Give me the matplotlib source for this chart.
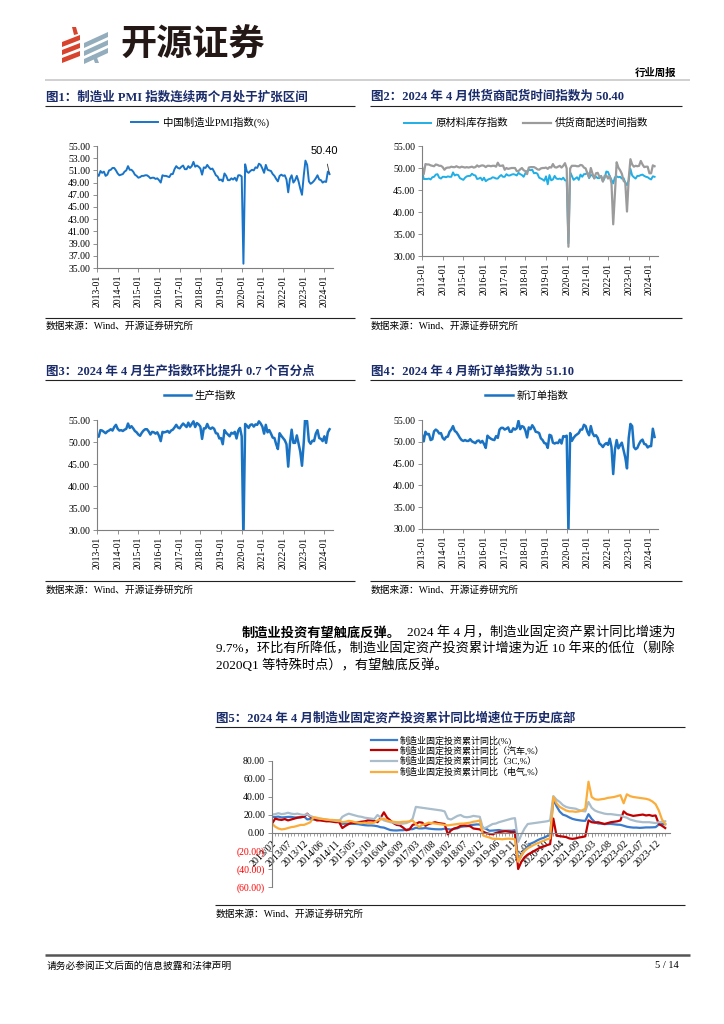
import matplotlib.pyplot as plt
import numpy as np
from matplotlib.patches import Polygon

plt.rcParams['font.family'] = ['Liberation Serif', 'Noto Sans CJK SC']
plt.rcParams['axes.unicode_minus'] = False

# ---------------- data ----------------
year_ticks = [f'{y}-01' for y in range(2013, 2025)]

# 制造业PMI, 2013-01 .. 2024-04
pmi = [50.4, 50.1, 50.9, 50.6, 50.8, 50.1, 50.3, 51.0, 51.1, 51.4, 51.4, 51.0,
       50.5, 50.2, 50.3, 50.4, 50.8, 51.0, 51.7, 51.1, 51.1, 50.8, 50.3, 50.1,
       49.8, 49.9, 50.1, 50.1, 50.2, 50.2, 50.0, 49.7, 49.8, 49.8, 49.6, 49.7,
       49.4, 49.0, 50.2, 50.1, 50.1, 50.0, 49.9, 50.4, 50.4, 51.2, 51.7, 51.4,
       51.3, 51.6, 51.8, 51.2, 51.2, 51.7, 51.4, 51.7, 52.4, 51.6, 51.8, 51.6,
       51.3, 50.3, 51.5, 51.4, 51.9, 51.5, 51.2, 51.3, 50.8, 50.2, 50.0, 49.4,
       49.5, 49.2, 50.5, 50.1, 49.4, 49.4, 49.7, 49.5, 49.8, 49.3, 50.2, 50.2,
       50.0, 35.7, 52.0, 50.8, 50.6, 50.9, 51.1, 51.0, 51.5, 51.4, 52.1, 51.9,
       51.3, 50.6, 51.9, 51.1, 51.0, 50.9, 50.4, 50.1, 49.6, 49.2, 50.1, 50.3,
       50.1, 50.2, 49.5, 47.4, 49.6, 50.2, 49.0, 49.4, 50.1, 49.2, 48.0, 47.0,
       50.1, 52.6, 51.9, 49.2, 48.8, 49.0, 49.3, 49.7, 50.2, 49.5, 49.4, 49.0,
       49.2, 49.1, 50.8, 50.4]

# 原材料库存指数
inventory = [49.6, 47.5, 47.5, 47.5, 47.6, 47.4, 47.9, 48.0, 48.5, 48.6, 47.8, 47.6,
             48.0, 48.0, 47.9, 48.1, 48.0, 48.0, 49.0, 48.3, 48.5, 48.4, 47.7, 47.5,
             47.3, 47.8, 48.1, 48.2, 48.2, 48.7, 48.4, 48.3, 47.5, 47.6, 47.8, 47.2,
             47.8, 47.0, 47.3, 47.5, 47.6, 47.9, 47.8, 47.6, 47.6, 48.1, 48.4, 48.0,
             48.0, 48.6, 48.3, 48.3, 48.5, 48.6, 48.5, 48.3, 48.9, 48.6, 48.4, 48.0,
             48.8, 49.3, 49.6, 49.5, 49.6, 48.8, 48.9, 48.7, 47.8, 47.6, 47.4, 47.1,
             48.1, 46.3, 48.4, 47.2, 47.4, 48.2, 47.6, 47.5, 47.6, 47.4, 47.8, 47.2,
             47.1, 32.9, 49.0, 48.2, 47.3, 47.6, 47.9, 47.3, 48.5, 48.0, 48.6, 48.6,
             49.0, 47.7, 48.4, 48.3, 47.7, 48.0, 47.7, 47.7, 48.2, 47.0, 47.7, 49.2,
             49.1, 48.1, 47.3, 46.5, 47.9, 48.1, 47.9, 48.0, 47.6, 47.7, 46.7, 46.1,
             47.2, 49.8, 48.3, 47.9, 47.6, 48.2, 48.2, 48.4, 48.5, 48.2, 48.0, 47.9,
             47.6, 47.4, 48.1, 48.0]

# 供货商配送时间指数
delivery = [50.3, 48.6, 50.9, 50.8, 50.8, 50.6, 50.5, 50.4, 50.8, 50.7, 50.5, 50.5,
            50.2, 49.6, 50.0, 50.1, 50.1, 50.3, 50.2, 50.2, 50.4, 50.2, 50.1, 50.3,
            50.2, 50.1, 50.2, 50.1, 50.2, 50.3, 50.1, 50.2, 50.6, 50.3, 50.5, 50.6,
            50.5, 50.2, 50.5, 50.5, 50.4, 50.5, 50.5, 50.3, 51.2, 50.5, 50.5, 50.6,
            49.6, 50.0, 49.8, 49.9, 50.0, 50.0, 50.0, 49.3, 49.3, 49.7, 50.0, 49.5,
            49.3, 48.6, 50.1, 50.2, 50.2, 50.2, 50.0, 49.7, 49.6, 49.9, 50.0, 50.0,
            50.1, 49.8, 50.2, 50.1, 50.9, 50.2, 50.1, 50.3, 50.5, 50.1, 50.5, 51.1,
            49.9, 32.1, 49.9, 50.5, 50.5, 50.5, 50.4, 50.4, 50.7, 50.6, 50.1, 49.9,
            48.8, 47.9, 50.0, 48.7, 47.6, 48.8, 48.9, 48.0, 48.1, 46.9, 48.2, 48.3,
            47.6, 48.2, 46.5, 37.2, 44.1, 51.3, 50.1, 49.5, 48.7, 47.1, 46.7, 40.1,
            47.6, 52.0, 50.8, 50.3, 50.5, 50.4, 50.5, 51.6, 50.8, 50.2, 50.3, 50.3,
            48.8, 48.8, 50.6, 50.4]

# 生产指数
production = [51.3, 51.2, 52.7, 52.6, 52.3, 52.0, 52.4, 52.6, 52.9, 52.6, 53.4, 53.9,
              53.0, 52.6, 52.7, 52.5, 52.8, 53.0, 54.2, 53.2, 53.6, 53.1, 52.5, 52.2,
              51.7, 51.4, 52.1, 52.6, 52.9, 52.9, 52.4, 51.7, 52.3, 52.2, 51.9, 52.2,
              51.4, 50.2, 52.3, 52.2, 52.3, 52.5, 52.1, 52.6, 52.8, 53.3, 53.9, 53.3,
              53.1, 53.7, 54.2, 53.8, 53.4, 54.4, 53.5, 54.1, 54.7, 53.4, 54.3, 54.0,
              53.5, 50.7, 53.1, 53.1, 54.1, 53.2, 53.0, 53.3, 53.0, 52.0, 51.9, 50.8,
              50.9, 49.5, 52.7, 52.1, 51.7, 51.3, 52.1, 51.9, 52.3, 50.8, 52.6, 53.2,
              51.3, 27.8, 54.1, 53.7, 53.2, 53.9, 54.0, 53.5, 54.0, 53.9, 54.7, 54.2,
              53.5, 51.9, 53.9, 52.2, 52.7, 51.9, 51.0, 50.9, 49.5, 48.4, 52.0, 51.4,
              50.9, 50.4, 49.5, 44.4, 49.7, 52.8, 49.8, 49.8, 51.5, 49.6, 47.8, 44.6,
              49.8, 56.7, 54.6, 50.2, 49.6, 50.3, 50.2, 51.9, 52.7, 50.9, 50.7, 50.2,
              51.3, 49.8, 52.2, 52.9]

# 新订单指数
new_orders = [51.6, 50.1, 52.3, 51.7, 51.8, 50.4, 50.6, 52.4, 52.8, 52.5, 51.9, 52.0,
              50.9, 50.5, 51.1, 51.2, 52.3, 52.8, 53.6, 52.5, 52.2, 51.6, 50.9, 50.4,
              50.2, 50.4, 50.2, 50.2, 50.6, 50.1, 49.9, 49.7, 50.2, 50.3, 49.8, 50.2,
              49.5, 48.6, 51.4, 51.0, 50.7, 50.5, 50.4, 51.3, 50.9, 52.8, 53.2, 53.2,
              52.8, 53.0, 53.3, 52.3, 52.3, 53.1, 52.8, 53.1, 54.8, 52.9, 53.6, 53.4,
              52.6, 51.0, 53.3, 52.9, 53.8, 53.2, 52.3, 52.2, 52.0, 50.8, 50.4, 49.7,
              49.6, 48.6, 51.6, 51.4, 49.8, 49.6, 49.8, 49.7, 50.5, 49.6, 51.3, 51.2,
              51.4, 29.3, 52.0, 50.2, 50.9, 51.4, 51.7, 52.0, 52.8, 52.8, 53.9, 53.6,
              52.3, 51.5, 53.6, 52.0, 51.3, 51.5, 50.9, 49.6, 49.3, 48.8, 49.4, 49.7,
              49.3, 50.7, 48.8, 42.6, 48.2, 50.4, 48.5, 49.2, 49.8, 48.1, 46.4, 43.9,
              50.9, 54.1, 53.6, 48.8, 48.3, 48.6, 49.5, 50.2, 50.5, 49.5, 49.4, 48.7,
              49.0, 49.0, 53.0, 51.1]

# 制造业固定资产投资累计同比, 2013/02 .. 2024/04 (no January)
fai_months = [f'{y}{"/" if y < 2019 else "-"}{m:02d}'
              for y in range(2013, 2025) for m in range(2, 13)
              if not (y == 2024 and m > 4)]
fai_total = [17.8, 17.8, 18.2, 17.3, 17.5, 17.9, 17.9, 17.3, 17.3, 17.5, 18.5,
             15.1, 15.5, 15.0, 14.8, 14.8, 14.5, 14.1, 14.0, 13.9, 13.6, 13.5,
             10.2, 10.4, 10.4, 10.1, 10.1, 9.8, 9.2, 8.7, 8.4, 8.4, 8.1,
             7.5, 6.4, 6.0, 4.6, 3.3, 2.9, 2.8, 3.1, 3.1, 3.6, 4.2,
             4.3, 5.8, 5.1, 5.1, 5.5, 4.9, 4.5, 4.2, 4.1, 4.1, 4.8,
             4.3, 3.8, 4.8, 5.2, 6.8, 7.3, 7.5, 8.7, 9.1, 9.5, 9.5,
             5.9, 4.6, 2.5, 2.7, 3.0, 3.3, 2.6, 2.5, 2.6, 2.5, 3.1,
             -31.5, -25.2, -18.8, -14.8, -11.7, -10.2, -8.1, -6.5, -5.3, -3.5, -2.2,
             37.3, 29.8, 23.8, 20.4, 19.2, 17.3, 15.7, 14.8, 14.2, 13.7, 13.5,
             20.9, 15.6, 12.2, 10.6, 10.4, 9.9, 10.0, 10.1, 9.7, 9.3, 9.1,
             8.1, 7.0, 6.4, 6.0, 6.0, 5.7, 5.9, 6.2, 6.2, 6.3, 6.5,
             9.4, 9.9, 9.7]
fai_auto = [10.4, 16.0, 15.0, 14.5, 15.5, 14.0, 15.0, 16.0, 17.0, 17.5, 18.0,
            21.5, 18.0, 16.0, 14.0, 14.0, 13.5, 13.0, 13.0, 12.5, 12.0, 12.0,
            5.5, 8.0, 10.0, 11.5, 11.0, 12.0, 12.5, 13.0, 14.0, 14.0, 13.5,
            12.0, 17.0, 23.0, 17.0, 14.0, 11.0, 9.0, 8.5, 6.0, 3.0, 4.0,
            9.0, 10.0, 12.0, 11.5, 8.0, 10.0, 11.0, 12.0, 11.0, 10.5, 10.0,
            -1.5, 3.0, 5.0, 6.0, 8.0, 8.5, 8.0, 7.5, 5.0, 4.5, 4.0,
            1.5, 0.0, -1.0, -1.5, 0.0, 1.0, 1.5, 2.0, 1.5, 1.0, 1.0,
            -40.0, -32.0, -27.0, -24.0, -22.0, -20.0, -18.0, -16.0, -15.0, -13.5, -12.4,
            16.0, -3.0, -3.5, -4.0, -4.5, -6.0, -6.5, -6.0, -5.0, -4.5, -3.7,
            14.0, 12.0, 11.5, 12.0, 11.0, 10.0, 11.0, 12.0, 12.5, 13.0, 14.0,
            24.0, 21.0, 20.0, 19.0, 19.5, 20.0, 20.5, 19.5, 20.0, 19.0, 19.5,
            10.0, 8.0, 5.5]
fai_3c = [20.4, 21.0, 22.0, 21.0, 21.5, 22.5, 21.5, 21.0, 21.5, 20.5, 20.0,
          21.0, 19.0, 17.5, 16.5, 16.0, 15.5, 15.0, 14.5, 14.0, 13.5, 13.0,
          18.0, 20.0, 21.5, 20.5, 19.5, 18.5, 18.0, 17.0, 16.5, 16.0, 15.5,
          20.0, 17.0, 14.0, 13.0, 12.0, 11.5, 10.5, 10.0, 10.5, 11.0, 12.5,
          16.0, 29.0, 28.5, 28.0, 27.5, 27.0, 26.5, 26.0, 25.5, 25.0, 24.0,
          16.0, 15.0, 17.0, 19.0, 20.0, 18.0, 17.5, 18.0, 19.0, 18.5, 18.0,
          5.0, 6.0, 8.0, 10.0, 10.5, 12.0, 13.0, 14.0, 15.0, 16.0, 16.5,
          -10.0, -2.0, 5.0, 10.0, 10.5, 11.0, 11.5, 12.0, 12.5, 13.0, 14.0,
          41.0, 37.0, 34.5, 31.0, 29.0, 28.0, 27.5, 27.0, 25.5, 24.5, 24.0,
          34.5, 28.0, 25.0, 23.5, 22.5, 21.5, 21.0, 21.0, 20.5, 20.0, 19.7,
          18.0, 17.0, 15.0, 14.0, 13.0, 12.5, 12.0, 12.0, 12.0, 11.5, 11.0,
          12.0, 12.5, 13.0]
fai_elec = [10.4, 7.0, 5.0, 4.0, 4.5, 5.5, 6.5, 7.0, 8.0, 9.0, 9.0,
            10.4, 12.0, 17.5, 17.0, 16.0, 15.5, 15.0, 14.5, 14.5, 14.0, 14.0,
            12.0, 12.5, 13.5, 13.0, 12.0, 11.5, 11.0, 11.5, 11.0, 11.0, 11.5,
            14.0, 15.0, 16.0, 14.0, 13.0, 12.5, 12.0, 12.0, 12.5, 12.5, 13.0,
            13.8, 10.0, 6.7, 9.0, 10.0, 11.5, 11.0, 10.5, 10.0, 9.5, 9.0,
            8.5, 9.0, 9.5, 10.0, 10.4, 10.5, 11.0, 11.5, 12.5, 13.0, 14.0,
            -2.6, -4.0, -5.0, -6.3, -6.5, -6.5, -7.0, -6.5, -6.3, -6.5, -7.0,
            -32.0, -25.0, -20.0, -17.0, -15.0, -13.0, -11.5, -10.0, -8.5, -7.0, -6.0,
            40.0, 33.0, 29.0, 27.0, 25.0, 24.0, 24.0, 23.5, 24.0, 25.0, 27.0,
            57.0, 40.0, 37.5, 37.0, 37.5, 38.0, 39.0, 39.5, 40.0, 41.0, 42.0,
            33.0, 43.0, 41.0, 40.0, 39.5, 39.0, 38.5, 38.0, 37.0, 35.0, 32.0,
            25.0, 15.0, 10.0]

# ---------------- page ----------------
W, H = 724, 1024
fig = plt.figure(figsize=(7.24, 10.24), dpi=100)
bg = fig.add_axes([0, 0, 1, 1])
bg.set_xlim(0, W)
bg.set_ylim(H, 0)
bg.axis('off')

title_c = '#1B2C6B'
cjk_sans = ['Noto Sans CJK SC']


def box(l, t, r, b):
    return [l / W, 1 - b / H, (r - l) / W, (b - t) / H]


def hline(x0, x1, y, lw=0.8, c='#222222'):
    bg.plot([x0, x1], [y, y], color=c, lw=lw, solid_capstyle='butt')


# logo
red = '#D8432E'
grey = '#93ADBC'
for i in range(3):
    yb = 37 + i * 8
    bg.add_patch(Polygon([(62, yb + 5), (80, yb - 2), (80, yb + 3), (62, yb + 10)], color=red, lw=0))
    bg.add_patch(Polygon([(84, yb + 6), (108, yb - 5), (108, yb), (84, yb + 11)], color=grey, lw=0))
bg.add_patch(Polygon([(72, 27), (76, 27), (78, 34), (74, 35)], color=red, lw=0))
bg.add_patch(Polygon([(92, 55), (96, 55), (99, 63), (95, 63)], color=grey, lw=0))
bg.text(120, 45, '开源证券', fontsize=26, fontweight='bold', family=cjk_sans,
        color='#231815', va='center', ha='left')
bg.text(676, 73, '行业周报', fontsize=7.5, fontweight='bold', ha='right', va='center')
hline(45, 690, 80, lw=1.2, c='#C8C8C8')

# footer
hline(45, 690, 955, lw=1.8, c='#555555')
bg.text(47, 966, '请务必参阅正文后面的信息披露和法律声明', fontsize=7, va='center')
bg.text(679, 966, '5 / 14', fontsize=7.5, va='center', ha='right')


def panel_frame(x0, x1, ty, title, uy, sy, src_y):
    bg.text(x0 + 1, ty, title, fontsize=9, fontweight='bold', color=title_c, va='center')
    hline(x0, x1, uy)
    hline(x0, x1, sy)
    bg.text(x0 + 1, src_y, '数据来源：Wind、开源证券研究所', fontsize=7, va='center')


def style_ts(ax, ylo, yhi, step):
    n = len(pmi)
    ax.set_xlim(0, n + 1)
    ax.set_ylim(ylo, yhi)
    ax.set_yticks(np.arange(ylo, yhi + 0.1, step))
    ax.yaxis.set_major_formatter(plt.FuncFormatter(lambda v, p: f'{v:.2f}'))
    ax.set_xticks(np.arange(0, n, 12))
    ax.set_xticklabels(year_ticks, rotation=90)
    for s in ['top', 'right']:
        ax.spines[s].set_visible(False)
    for s in ['left', 'bottom']:
        ax.spines[s].set_color('#7F7F7F')
        ax.spines[s].set_linewidth(0.8)
    ax.tick_params(labelsize=7, length=3, width=0.6, color='#7F7F7F', pad=2)


def legend_at(ax, cx, cy, ncol=1, fs=7.5):
    ax.legend(loc='center', bbox_to_anchor=(cx / W, 1 - cy / H), bbox_transform=fig.transFigure,
              frameon=False, ncol=ncol, fontsize=fs, handlelength=2.6, handletextpad=0.4,
              columnspacing=1.5, borderpad=0)


x = np.arange(len(pmi))

# 图1
panel_frame(45, 355, 97, '图1：制造业 PMI 指数连续两个月处于扩张区间', 106, 318, 326)
ax1 = fig.add_axes(box(97, 146, 333, 268))
ax1.plot(x, pmi, color='#1874C8', lw=1.4, label='中国制造业PMI指数(%)')
style_ts(ax1, 35, 55, 2)
legend_at(ax1, 200, 122)
ax1.annotate(f'{pmi[-1]:.2f}', xy=(x[-1], pmi[-1]), xytext=(x[-1] - 3, 54.2),
             fontsize=8, family='Liberation Sans', ha='center', va='center',
             arrowprops=dict(arrowstyle='-', color='#333333', lw=0.6, shrinkA=4, shrinkB=1))

# 图2
panel_frame(370, 682, 97, '图2：2024 年 4 月供货商配货时间指数为 50.40', 106, 318, 326)
ax2 = fig.add_axes(box(422, 146, 658, 256))
ax2.plot(x, inventory, color='#1FAEE6', lw=1.4, label='原材料库存指数')
ax2.plot(x, delivery, color='#9B9B9B', lw=1.6, label='供货商配送时间指数')
style_ts(ax2, 30, 55, 5)
legend_at(ax2, 526, 123, ncol=2)

# 图3
panel_frame(45, 355, 372, '图3：2024 年 4 月生产指数环比提升 0.7 个百分点', 380, 581, 590)
ax3 = fig.add_axes(box(97, 420, 333, 530))
ax3.plot(x, production, color='#1A73C2', lw=1.8, label='生产指数')
style_ts(ax3, 30, 55, 5)
legend_at(ax3, 200, 396)

# 图4
panel_frame(370, 682, 372, '图4：2024 年 4 月新订单指数为 51.10', 380, 581, 590)
ax4 = fig.add_axes(box(422, 420, 658, 529))
ax4.plot(x, new_orders, color='#1A73C2', lw=1.8, label='新订单指数')
style_ts(ax4, 30, 55, 5)
legend_at(ax4, 527, 396)

# body paragraph
bg.text(242, 633, '制造业投资有望触底反弹。', fontsize=9.5, fontweight='bold', va='center')
bg.text(407, 633, '2024 年 4 月，制造业固定资产累计同比增速为', fontsize=9.5, va='center')
bg.text(216, 649, '9.7%，环比有所降低，制造业固定资产投资累计增速为近 10 年来的低位（剔除',
        fontsize=9.5, va='center')
bg.text(216, 665, '2020Q1 等特殊时点），有望触底反弹。', fontsize=9.5, va='center')

# 图5
panel_frame(215, 685, 718, '图5：2024 年 4 月制造业固定资产投资累计同比增速位于历史底部', 727, 905, 914)
ax5 = fig.add_axes(box(272, 761, 670, 887))
xf = np.arange(len(fai_total))
ax5.plot(xf, fai_total, color='#3A7BCC', lw=1.6, label='制造业固定投资累计同比(%)')
ax5.plot(xf, fai_auto, color='#C00000', lw=1.6, label='制造业固定投资累计同比（汽车,%）')
ax5.plot(xf, fai_3c, color='#A9BDCB', lw=1.6, label='制造业固定投资累计同比（3C,%）')
ax5.plot(xf, fai_elec, color='#FBAD3B', lw=1.6, label='制造业固定投资累计同比（电气,%）')
ax5.set_xlim(0, len(fai_total) + 0.5)
ax5.set_ylim(-60, 80)
yt = np.arange(-60, 81, 20)
ax5.set_yticks(yt)
ax5.set_yticklabels([f'({abs(v):.2f})' if v < 0 else f'{v:.2f}' for v in yt])
ax5.set_xticks(xf, minor=True)
ax5.set_xticks(xf[::5])
ax5.set_xticklabels(fai_months[::5])
ax5.spines['bottom'].set_position(('data', 0))
for s in ['top', 'right']:
    ax5.spines[s].set_visible(False)
for s in ['left', 'bottom']:
    ax5.spines[s].set_color('#7F7F7F')
    ax5.spines[s].set_linewidth(0.8)
ax5.tick_params(labelsize=7, length=3, width=0.6, color='#7F7F7F', pad=2)
ax5.tick_params(axis='x', which='minor', length=2, width=0.5, color='#7F7F7F')
ax5.tick_params(axis='x', which='major', labelsize=7.2, labelrotation=45, pad=1)
for lab in ax5.get_xticklabels():
    lab.set_ha('right')
    lab.set_va('top')
    lab.set_rotation_mode('anchor')
for lab, v in zip(ax5.get_yticklabels(), yt):
    if v < 0:
        lab.set_color('#FF0000')
ax5.legend(loc='center', bbox_to_anchor=(458 / W, 1 - 756 / H), bbox_transform=fig.transFigure,
           frameon=False, fontsize=6.5, handlelength=2.8, handletextpad=0.4,
           labelspacing=0.15, borderpad=0)

fig.savefig('out.png', dpi=100)
